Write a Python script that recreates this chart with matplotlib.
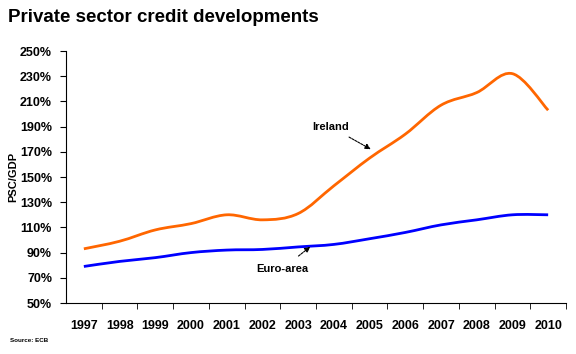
import matplotlib
matplotlib.use("Agg")
import matplotlib.pyplot as plt
from matplotlib.path import Path
from matplotlib.patches import PathPatch
from matplotlib.ticker import FixedLocator

plt.rcParams["font.family"] = ["Liberation Sans", "DejaVu Sans"]
plt.rcParams["font.weight"] = "bold"

years = ["1997", "1998", "1999", "2000", "2001", "2002", "2003",
         "2004", "2005", "2006", "2007", "2008", "2009", "2010"]
ireland = [93, 99, 108, 113, 120, 116, 121, 143, 165, 184, 207, 217, 232, 203]
euro_area = [79, 83, 86, 90, 92, 92.5, 94.5, 96.5, 101, 106, 112, 116, 120, 120]


def smooth_path(xs, ys, t=0.17):
    # Excel-style smoothed line: cubic Bezier segments through the points
    verts = [(xs[0], ys[0])]
    codes = [Path.MOVETO]
    n = len(xs)
    for i in range(n - 1):
        p0 = (xs[max(i - 1, 0)], ys[max(i - 1, 0)])
        p1 = (xs[i], ys[i])
        p2 = (xs[i + 1], ys[i + 1])
        p3 = (xs[min(i + 2, n - 1)], ys[min(i + 2, n - 1)])
        c1 = (p1[0] + t * (p2[0] - p0[0]), p1[1] + t * (p2[1] - p0[1]))
        c2 = (p2[0] - t * (p3[0] - p1[0]), p2[1] - t * (p3[1] - p1[1]))
        verts += [c1, c2, p2]
        codes += [Path.CURVE4] * 3
    return Path(verts, codes)


fig = plt.figure(figsize=(5.76, 3.54), dpi=100)
ax = fig.add_axes([66 / 576, 51 / 354, 500 / 576, 252 / 354])

x = list(range(len(years)))
ax.add_patch(PathPatch(smooth_path(x, ireland), fill=False, edgecolor="#ff6600", lw=2))
ax.add_patch(PathPatch(smooth_path(x, euro_area), fill=False, edgecolor="#0000ff", lw=2))

ax.set_xlim(-0.5, len(years) - 0.5)
ax.set_ylim(50, 250)
ax.set_yticks(range(50, 251, 20))
ax.set_yticklabels([f"{v}%" for v in range(50, 251, 20)], fontsize=9, fontweight="bold")
ax.set_xticks(x)
ax.set_xticklabels(years, fontsize=9, fontweight="bold")
ax.tick_params(axis="x", which="major", length=0, pad=12)
ax.xaxis.set_minor_locator(FixedLocator([i + 0.5 for i in range(len(years))]))
ax.tick_params(axis="x", which="minor", length=4, direction="out")
ax.tick_params(axis="y", length=4, direction="out", pad=6)
for s in ["top", "right"]:
    ax.spines[s].set_visible(False)

ax.set_ylabel("PSC/GDP", fontsize=8, fontweight="bold", labelpad=1)

ax.annotate("Ireland", xy=(8.1, 171), xytext=(6.9, 190), fontsize=8, fontweight="bold",
            ha="center", va="center",
            arrowprops=dict(arrowstyle="-|>", color="black", lw=0.8, mutation_scale=8,
                            linestyle=(0, (2, 1)), shrinkA=4))
ax.annotate("Euro-area", xy=(6.4, 96), xytext=(5.55, 77), fontsize=8, fontweight="bold",
            ha="center", va="center",
            arrowprops=dict(arrowstyle="-|>", color="black", lw=0.8, mutation_scale=8,
                            linestyle=(0, (2, 1)), shrinkA=6))

fig.text(8 / 576, 1 - 18 / 354, "Private sector credit developments", fontsize=13.5,
         fontweight="bold", va="center", ha="left")
fig.text(10 / 576, 1 - 341 / 354, "Source: ECB", fontsize=4.5, fontweight="bold",
         va="center", ha="left")

fig.savefig("out.png", dpi=100)
